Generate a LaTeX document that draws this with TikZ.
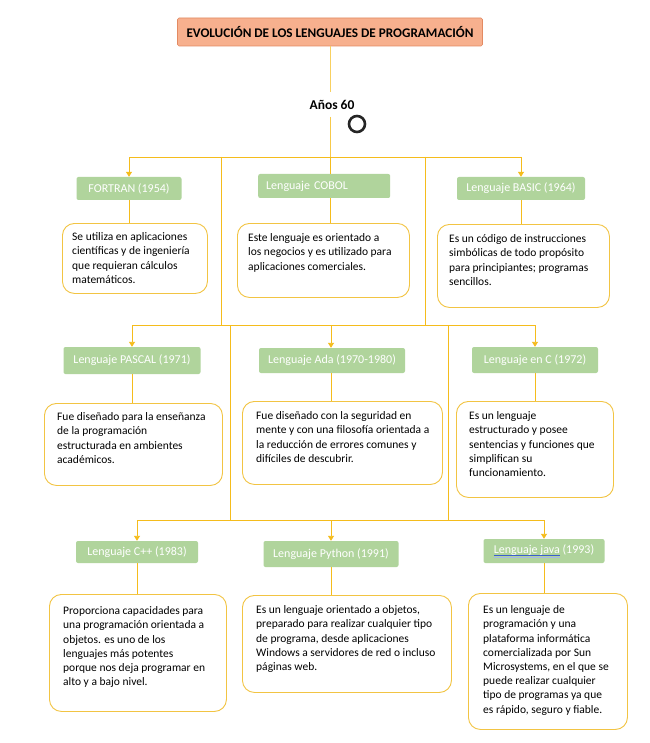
\documentclass[tikz,border=0pt]{standalone}
\usepackage{fontspec}
\setmainfont{Carlito}
\usetikzlibrary{arrows.meta,calc,decorations.pathmorphing}
\definecolor{gold}{HTML}{F5BC1C}
\definecolor{goldbox}{HTML}{F2C443}
\definecolor{lgreen}{HTML}{B0D49C}
\definecolor{salmon}{HTML}{F7B08E}
\definecolor{salmonedge}{HTML}{E38A62}
\definecolor{spellblue}{HTML}{3A5FCD}
\newcommand\javaul[1]{\setbox0\hbox{#1}\rlap{\textcolor{spellblue}{\rule[-2pt]{\wd0}{0.6pt}}}\rlap{\textcolor{spellblue!45}{\rule[-3.3pt]{\wd0}{0.5pt}}}\box0\relax}
\newlength\sunx
\newlength\sunw
\begin{document}
\begin{tikzpicture}[x=1pt,y=-1pt,
  lbl/.style={fill=lgreen, rounded corners=2pt, text=white, font=\fontsize{12}{13}\selectfont, inner sep=0pt},
  dbox/.style={draw=goldbox, line width=0.9pt, rounded corners=12pt, fill=white, anchor=north west, inner sep=0pt},
  dtext/.style={anchor=north west, align=left, inner sep=0pt, font=\fontsize{11.5}{14.2}\selectfont},
  conn/.style={draw=gold, line width=0.9pt},
  arr/.style={conn, -{Triangle[width=6pt,length=5pt]}},
  wave/.style={draw=red, line width=0.8pt, decorate, decoration={snake, amplitude=1pt, segment length=3.5pt}}]
\fill[white] (0,0) rectangle (649,743);
\useasboundingbox (0,0) rectangle (649,743);
\settowidth\sunx{\fontsize{11.5}{14.2}\selectfont comercializada por }
\settowidth\sunw{\fontsize{11.5}{14.2}\selectfont Sun}

% title
\node[fill=salmon, draw=salmonedge, line width=0.6pt, rounded corners=1.5pt, minimum width=305pt, minimum height=28pt, inner sep=0pt, font=\bfseries\fontsize{13.2}{14}\selectfont] (title) at (330,32) {EVOLUCIÓN DE LOS LENGUAJES DE PROGRAMACIÓN};
\node[inner sep=1pt, font=\bfseries\fontsize{13.5}{14}\selectfont] (anos) at (332,105) {Años 60};
\node[circle, draw=black!85, line width=2.6pt, minimum size=16pt, inner sep=0pt] (ring) at (357,124) {};

% labels row 1
\node[lbl, minimum width=105pt, minimum height=23pt] (fortran) at (129,188.5) {FORTRAN (1954)};
\node[lbl, minimum width=132pt, minimum height=24pt, anchor=west, text width=116pt, align=left] (cobol) at (258,186) {Lenguaje COBOL};
\node[lbl, minimum width=128pt, minimum height=23pt] (basic) at (521,188.5) {Lenguaje BASIC (1964)};
% labels row 2
\node[lbl, minimum width=137pt, minimum height=27pt] (pascal) at (132,360.5) {Lenguaje PASCAL (1971)};
\node[lbl, minimum width=146pt, minimum height=25pt] (ada) at (332,360.5) {Lenguaje Ada (1970-1980)};
\node[lbl, minimum width=126pt, minimum height=26pt] (clang) at (535,360) {Lenguaje en C (1972)};
% labels row 3
\node[lbl, minimum width=122pt, minimum height=22pt] (cpp) at (137,552) {Lenguaje C++ (1983)};
\node[lbl, minimum width=135pt, minimum height=26pt] (python) at (331,554) {Lenguaje Python (1991)};
\node[lbl, minimum width=121pt, minimum height=24pt] (java) at (544,551) {\javaul{Lenguaje java} (1993)};

% description boxes
\node[dbox, minimum width=145pt, minimum height=70pt] (d1) at (62,223) {};
\node[dbox, minimum width=172pt, minimum height=74pt] (d2) at (237,223) {};
\node[dbox, minimum width=172pt, minimum height=83pt] (d3) at (437,224) {};
\node[dbox, minimum width=178pt, minimum height=82pt] (d4) at (44,403) {};
\node[dbox, minimum width=200pt, minimum height=83pt] (d5) at (242,401) {};
\node[dbox, minimum width=157pt, minimum height=96pt] (d6) at (456,401) {};
\node[dbox, minimum width=177pt, minimum height=117pt] (d7) at (49,594) {};
\node[dbox, minimum width=209pt, minimum height=97pt] (d8) at (242,595) {};
\node[dbox, minimum width=159pt, minimum height=136pt] (d9) at (468,593) {};

% description texts
\node[dtext] (t1) at (72,230.5) {\strut Se utiliza en aplicaciones\\científicas y de ingeniería\\que requieran cálculos\\matemáticos.};
\node[dtext] (t2) at (248,231.5) {\strut Este lenguaje es orientado a\\los negocios y es utilizado para\\aplicaciones comerciales.};
\node[dtext] (t3) at (449,232.5) {\strut Es un código de instrucciones\\simbólicas de todo propósito\\para principiantes; programas\\sencillos.};
\node[dtext] (t4) at (57,410.5) {\strut Fue diseñado para la enseñanza\\de la programación\\estructurada en ambientes\\académicos.};
\node[dtext] (t5) at (256,409.5) {\strut Fue diseñado con la seguridad en\\mente y con una filosofía orientada a\\la reducción de errores comunes y\\difíciles de descubrir.};
\node[dtext] (t6) at (469,409.5) {\strut Es un lenguaje\\estructurado y posee\\sentencias y funciones que\\simplifican su\\funcionamiento.};
\node[dtext] (t7) at (63,604.5) {\strut Proporciona capacidades para\\una programación orientada a\\objetos. es uno de los\\lenguajes más potentes\\porque nos deja programar en\\alto y a bajo nivel.};
\node[dtext] (t8) at (256,603.5) {\strut Es un lenguaje orientado a objetos,\\preparado para realizar cualquier tipo\\de programa, desde aplicaciones\\Windows a servidores de red o incluso\\páginas web.};
\node[dtext] (t9) at (483,603.5) {\strut Es un lenguaje de\\programación y una\\plataforma informática\\comercializada por Sun\\Microsystems, en el que se\\puede realizar cualquier\\tipo de programas ya que\\es rápido, seguro y fiable.};
\draw[wave] ($(t9.north west)+(\sunx,-55.5pt)$) -- ++(\sunw,0pt);

% trunk
\coordinate (s0) at (330,92);
\coordinate (s1) at (330,117);
\coordinate (j1) at (330,157);
\draw[conn, draw=gold!70] (title.south) -- (s0);
\draw[conn, draw=gold!80] (s1) -- (j1);
\draw[arr] (j1) -| (fortran.north);
\draw[arr] (j1) -| (basic.north);
\draw[conn] (j1) -- (j1 |- cobol.north);

% row 1 to row 2
\coordinate (k1) at (221,157);
\coordinate (k2) at (425,157);
\coordinate (m1) at (221,325);
\coordinate (m2) at (425,325);
\coordinate (j2) at (331,325);
\draw[conn] (k1) -- (m1);
\draw[conn] (k2) -- (m2);
\draw[arr] (j2) -| (pascal.north);
\draw[arr] (j2) -| (clang.north);
\draw[arr] (j2) -- (j2 |- ada.north);

% row 2 to row 3
\coordinate (n1) at (230,325);
\coordinate (n2) at (448,325);
\coordinate (p1) at (230,520);
\coordinate (p2) at (448,520);
\coordinate (j3) at (331,520);
\draw[conn] (n1) -- (p1);
\draw[conn] (n2) -- (p2);
\draw[arr] (j3) -| (cpp.north);
\draw[arr] (j3) -| (java.north);
\draw[arr] (j3) -- (j3 |- python.north);

% label to description
\draw[conn] (fortran.south) -- (fortran.south |- d1.north);
\draw[conn] (j1 |- cobol.south) -- (j1 |- d2.north);
\draw[conn] (basic.south) -- (basic.south |- d3.north);
\draw[conn] (pascal.south) -- (pascal.south |- d4.north);
\draw[conn] (j2 |- ada.south) -- (j2 |- d5.north);
\draw[conn] (clang.south) -- (clang.south |- d6.north);
\draw[conn] (cpp.south) -- (cpp.south |- d7.north);
\draw[conn] (j3 |- python.south) -- (j3 |- d8.north);
\draw[conn] (java.south) -- (java.south |- d9.north);
\end{tikzpicture}
\end{document}
